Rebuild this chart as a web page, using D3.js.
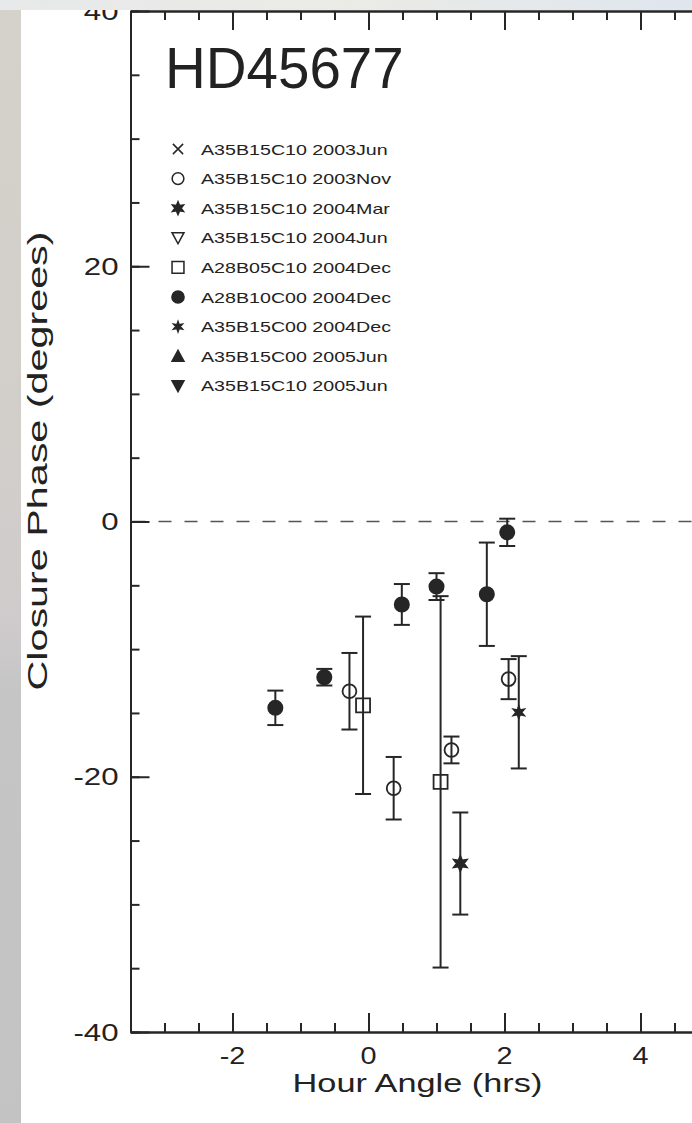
<!DOCTYPE html>
<html>
<head>
<meta charset="utf-8">
<script src="https://cdn.jsdelivr.net/npm/d3@7"></script>
<style>
  html, body { margin: 0; padding: 0; background: #fff; }
  svg { display: block; }
  text { font-family: "Liberation Sans", Arial, Helvetica, sans-serif; fill: #222; }
</style>
</head>
<body>
<script>
// ---- Closure phase measurements of HD45677 (hour angle in hrs, phase and 1-sigma error in degrees)
const seriesLabels = [
  "A35B15C10 2003Jun",
  "A35B15C10 2003Nov",
  "A35B15C10 2004Mar",
  "A35B15C10 2004Jun",
  "A28B05C10 2004Dec",
  "A28B10C00 2004Dec",
  "A35B15C00 2004Dec",
  "A35B15C00 2005Jun",
  "A35B15C10 2005Jun"
];

// A35B15C10 2003Nov (open circles)
const nov03Hour  = [-0.28, 0.37, 1.22, 2.06];
const nov03Phase = [-13.3, -20.9, -17.9, -12.35];
const nov03Err   = [3.0, 2.45, 1.05, 1.57];

// A35B15C10 2004Mar (filled six-point star)
const mar04Hour  = [1.35];
const mar04Phase = [-26.8];
const mar04Err   = [4.0];

// A28B05C10 2004Dec (open squares)
const dec04aHour  = [-0.08, 1.06];
const dec04aPhase = [-14.4, -20.4];
const dec04aErr   = [6.95, 14.55];

// A28B10C00 2004Dec (filled circles)
const dec04bHour  = [-1.37, -0.65, 0.49, 1.00, 1.74, 2.04];
const dec04bPhase = [-14.6, -12.2, -6.5, -5.1, -5.7, -0.85];
const dec04bErr   = [1.35, 0.65, 1.6, 1.05, 4.05, 1.07];

// A35B15C00 2004Dec (small star)
const dec04cHour  = [2.21];
const dec04cPhase = [-14.95];
const dec04cErr   = [4.4];

const xTickValues = [-2, 0, 2, 4];
const yTickValues = [-40, -20, 0, 20, 40];
const titleText = "HD45677";
const xTitle = "Hour Angle (hrs)";
const yTitle = "Closure Phase (degrees)";

// ---- layout
const W = 692, H = 1123;
const x = d3.scaleLinear().domain([-3.5, 5.5]).range([130.5, 742.5]);
const y = d3.scaleLinear().domain([-40, 40]).range([1032, 11]);
const ink = "#262626";

const svg = d3.select("body").append("svg")
  .attr("width", W).attr("height", H).attr("viewBox", `0 0 ${W} ${H}`);

const defs = svg.append("defs");
const gTop = defs.append("linearGradient").attr("id", "topband").attr("x1", 0).attr("x2", 1).attr("y1", 0).attr("y2", 0);
gTop.append("stop").attr("offset", 0).attr("stop-color", "#e7e9ea");
gTop.append("stop").attr("offset", 0.5).attr("stop-color", "#ebebe6");
gTop.append("stop").attr("offset", 1).attr("stop-color", "#dfe6ee");
const gLeft = defs.append("linearGradient").attr("id", "leftstrip").attr("x1", 0).attr("x2", 0).attr("y1", 0).attr("y2", 1);
gLeft.append("stop").attr("offset", 0).attr("stop-color", "#d5d1cb");
gLeft.append("stop").attr("offset", 0.35).attr("stop-color", "#d2cfca");
gLeft.append("stop").attr("offset", 0.55).attr("stop-color", "#cfcbcc");
gLeft.append("stop").attr("offset", 0.62).attr("stop-color", "#c5c5c5");
gLeft.append("stop").attr("offset", 1).attr("stop-color", "#c3c3c3");

svg.append("rect").attr("width", W).attr("height", H).attr("fill", "#fff");

const plot = svg.append("g");

// ---- zero reference line
plot.append("line")
  .attr("x1", x(-3.5)).attr("x2", x(5.5))
  .attr("y1", y(0)).attr("y2", y(0))
  .attr("stroke", "#555").attr("stroke-width", 1.5)
  .attr("stroke-dasharray", "13 13").attr("stroke-dashoffset", -2);

// ---- axes (ticks point inwards, mirrored on the top)
function styleAxis(g) {
  g.selectAll("path").attr("stroke", ink).attr("stroke-width", 2);
  g.selectAll("line").attr("stroke", ink).attr("stroke-width", 2);
  g.selectAll("text").remove();
}
const xMinor = d3.range(-3.5, 5.51, 0.5);
const yMinor = d3.range(-40, 40.1, 5);
plot.append("g").attr("transform", `translate(0,${y(-40)})`)
  .call(d3.axisBottom(x).tickValues(xMinor).tickSizeInner(-9).tickSizeOuter(0)).call(styleAxis);
plot.append("g").attr("transform", `translate(0,${y(-40)})`)
  .call(d3.axisBottom(x).tickValues(xTickValues).tickSizeInner(-19).tickSizeOuter(0)).call(styleAxis);
plot.append("g").attr("transform", `translate(0,${y(40)})`)
  .call(d3.axisTop(x).tickValues(xMinor).tickSizeInner(-9).tickSizeOuter(0)).call(styleAxis);
plot.append("g").attr("transform", `translate(0,${y(40)})`)
  .call(d3.axisTop(x).tickValues(xTickValues).tickSizeInner(-19).tickSizeOuter(0)).call(styleAxis);
plot.append("g").attr("transform", `translate(${x(-3.5)},0)`)
  .call(d3.axisLeft(y).tickValues(yMinor).tickSizeInner(-9).tickSizeOuter(0)).call(styleAxis);
plot.append("g").attr("transform", `translate(${x(-3.5)},0)`)
  .call(d3.axisLeft(y).tickValues(yTickValues).tickSizeInner(-19).tickSizeOuter(0)).call(styleAxis);

// tick labels, drawn in a wide face
const fmt = d => String(d);
plot.append("g").selectAll("text").data(xTickValues).join("text")
  .attr("transform", d => `translate(${x(d)},${y(-40) + 32}) scale(1.2,1)`)
  .attr("text-anchor", "middle").attr("font-size", 24).text(fmt);
plot.append("g").selectAll("text").data(yTickValues).join("text")
  .attr("transform", d => `translate(${x(-3.5) - 12},${y(d) + 8.5}) scale(1.3,1)`)
  .attr("text-anchor", "end").attr("font-size", 24).text(fmt);

// axis titles
plot.append("text")
  .attr("transform", `translate(${x(0.72)},${1092}) scale(1.32,1)`)
  .attr("text-anchor", "middle").attr("font-size", 26).text(xTitle);
plot.append("text")
  .attr("transform", `translate(47,461) rotate(-90) scale(1.53,1)`)
  .attr("text-anchor", "middle").attr("font-size", 27).text(yTitle);

// plot title
plot.append("text").attr("x", 165).attr("y", 88)
  .attr("font-size", 56.5).text(titleText);

// ---- marker shapes
function starPath(n, ro, ri) {
  const pts = [];
  for (let i = 0; i < 2 * n; i++) {
    const a = Math.PI * i / n - Math.PI / 2;
    const r = i % 2 === 0 ? ro : ri;
    pts.push([r * Math.cos(a), r * Math.sin(a)]);
  }
  return "M" + pts.map(p => p.join(",")).join("L") + "Z";
}
const shapes = [
  { path: "M-6,-6L6,6M-6,6L6,-6", fill: "none" },                    // cross
  { path: d3.symbol(d3.symbolCircle, 150)(), fill: "none" },         // open circle
  { path: starPath(6, 7.5, 3.6), fill: ink },                        // filled star
  { path: "M-7,-6L7,-6L0,7Z", fill: "none" },                        // open down triangle
  { path: "M-7,-7H7V7H-7Z", fill: "none" },                          // open square
  { path: d3.symbol(d3.symbolCircle, 160)(), fill: ink },            // filled circle
  { path: starPath(6, 6, 2.6), fill: ink },                          // small star
  { path: "M-7,6L7,6L0,-7Z", fill: ink },                            // filled up triangle
  { path: "M-7,-6L7,-6L0,7Z", fill: ink }                            // filled down triangle
];

// ---- data: error bars then symbols
const sets = [
  { shape: 1, hour: nov03Hour,  phase: nov03Phase,  err: nov03Err },
  { shape: 2, hour: mar04Hour,  phase: mar04Phase,  err: mar04Err },
  { shape: 4, hour: dec04aHour, phase: dec04aPhase, err: dec04aErr },
  { shape: 5, hour: dec04bHour, phase: dec04bPhase, err: dec04bErr },
  { shape: 6, hour: dec04cHour, phase: dec04cPhase, err: dec04cErr }
];
const cap = 8;
sets.forEach(s => {
  const pts = s.hour.map((h, i) => ({ h, p: s.phase[i], e: s.err[i] }));
  const g = plot.append("g");
  const eb = g.selectAll("g.eb").data(pts).join("g").attr("class", "eb")
    .attr("stroke", ink).attr("stroke-width", 2);
  eb.append("line").attr("x1", d => x(d.h)).attr("x2", d => x(d.h))
    .attr("y1", d => y(d.p + d.e)).attr("y2", d => y(d.p - d.e));
  eb.append("line").attr("x1", d => x(d.h) - cap).attr("x2", d => x(d.h) + cap)
    .attr("y1", d => y(d.p + d.e)).attr("y2", d => y(d.p + d.e));
  eb.append("line").attr("x1", d => x(d.h) - cap).attr("x2", d => x(d.h) + cap)
    .attr("y1", d => y(d.p - d.e)).attr("y2", d => y(d.p - d.e));
  const sh = shapes[s.shape];
  g.selectAll("path.mk").data(pts).join("path").attr("class", "mk")
    .attr("d", sh.path)
    .attr("transform", d => `translate(${x(d.h)},${y(d.p)})`)
    .attr("fill", sh.fill).attr("stroke", ink).attr("stroke-width", 1.8);
});

// ---- legend
const legend = plot.append("g").attr("transform", "translate(178,149)");
const rows = legend.selectAll("g").data(seriesLabels).join("g")
  .attr("transform", (d, i) => `translate(0,${i * 29.6})`);
rows.append("path").attr("d", (d, i) => shapes[i].path)
  .attr("transform", "scale(0.85)")
  .attr("fill", (d, i) => shapes[i].fill).attr("stroke", ink).attr("stroke-width", 1.8);
rows.append("text").attr("transform", "translate(23,5.5) scale(1.31,1)")
  .attr("font-size", 15).attr("fill", "#333").text(d => d);

// ---- page frame (scanned page edges)
svg.append("rect").attr("x", 0).attr("y", 0).attr("width", 21).attr("height", H).attr("fill", "url(#leftstrip)");
svg.append("rect").attr("x", 0).attr("y", 0).attr("width", W).attr("height", 10).attr("fill", "url(#topband)");
</script>
</body>
</html>
